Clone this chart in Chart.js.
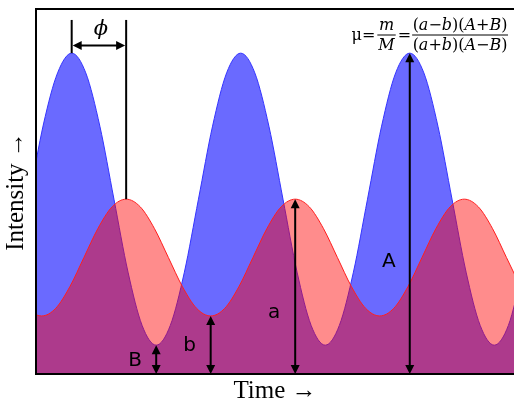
<!DOCTYPE html>
<html>
<head>
<meta charset="utf-8">
<script src="https://cdn.jsdelivr.net/npm/chart.js@4.4.1/dist/chart.umd.min.js"></script>
<style>
  html, body { margin: 0; padding: 0; background: #fff; overflow: hidden; }
  canvas { display: block; }
</style>
</head>
<body>
<canvas id="intensityChart" width="514" height="407"></canvas>
<script>
// ===============================
// DATA
// time is in degrees of the blue wave, its first peak at 0
// ===============================
const sampleTime = [-90, -60, -30, 0, 30, 60, 90, 120, 150, 180, 210, 240, 270, 300, 330,
    360, 390, 420, 450, 480, 510, 540, 570, 600, 630, 660, 690, 720, 750, 780, 810, 840,
    870, 900, 930, 960];
const sampleIntensity = [4.85, 6.85, 8.25, 8.79, 8.25, 6.79, 4.79, 2.79, 1.33, 0.79, 1.33,
    2.79, 4.79, 6.79, 8.25, 8.79, 8.25, 6.79, 4.79, 2.79, 1.33, 0.79, 1.33, 2.79, 4.79,
    6.79, 8.25, 8.79, 8.25, 6.79, 4.79, 2.79, 1.33, 0.79, 1.33, 2.79];

const referenceTime = [-124, -94, -64, -34, -4, 26, 56, 86, 116, 146, 176, 206, 236, 266,
    296, 326, 356, 386, 416, 446, 476, 506, 536, 566, 596, 626, 656, 686, 716, 746, 776,
    806, 836, 866, 896, 926, 956];
const referenceIntensity = [2.39, 1.80, 1.59, 1.80, 2.39, 3.19, 3.99, 4.58, 4.79, 4.58,
    3.99, 3.19, 2.39, 1.80, 1.59, 1.80, 2.39, 3.19, 3.99, 4.58, 4.79, 4.58, 3.99, 3.19,
    2.39, 1.80, 1.59, 1.80, 2.39, 3.19, 3.99, 4.58, 4.79, 4.58, 3.99, 3.19, 2.39];

const timeRange = [-76, 942];
const intensityRange = [0, 10];

// where the arrows sit (time of the peak / trough they measure)
const phaseShift = 116;
const levelNames = ['A', 'a', 'b', 'B'];
const levelTimes = [720, 476, 296, 180];

// ===============================
// HELPERS
// ===============================
function toPoints(xs, ys) {
    return xs.map((t, i) => ({ x: t, y: ys[i] }));
}

function arrowHead(ctx, x, y, dir) {
    const len = 9, half = 4.5;
    ctx.beginPath();
    if (dir === 'up') { ctx.moveTo(x, y); ctx.lineTo(x - half, y + len); ctx.lineTo(x + half, y + len); }
    if (dir === 'down') { ctx.moveTo(x, y); ctx.lineTo(x - half, y - len); ctx.lineTo(x + half, y - len); }
    if (dir === 'left') { ctx.moveTo(x, y); ctx.lineTo(x + len, y - half); ctx.lineTo(x + len, y + half); }
    if (dir === 'right') { ctx.moveTo(x, y); ctx.lineTo(x - len, y - half); ctx.lineTo(x - len, y + half); }
    ctx.closePath();
    ctx.fill();
}

function line(ctx, x1, y1, x2, y2) {
    ctx.beginPath();
    ctx.moveTo(x1, y1);
    ctx.lineTo(x2, y2);
    ctx.stroke();
}

function mathFont(italic, size) {
    return (italic ? 'italic ' : '') + size + 'px "DejaVu Serif"';
}

function runWidth(ctx, tokens, size) {
    let w = 0;
    tokens.forEach(([text, italic]) => {
        ctx.font = mathFont(italic, size);
        w += ctx.measureText(text).width;
    });
    return w;
}

function drawRun(ctx, tokens, x, y, size) {
    let cx = x;
    tokens.forEach(([text, italic]) => {
        ctx.font = mathFont(italic, size);
        ctx.fillText(text, cx, y);
        cx += ctx.measureText(text).width;
    });
}

// ===============================
// ANNOTATION PLUGIN (arrows, labels, formula)
// ===============================
const annotationPlugin = {
    id: 'annotations',
    afterDatasetsDraw(chart) {
        const { ctx, chartArea, scales: { x, y } } = chart;
        const A = Math.max(...sampleIntensity);
        const B = Math.min(...sampleIntensity);
        const a = Math.max(...referenceIntensity);
        const b = Math.min(...referenceIntensity);
        const levels = [A, a, b, B];

        ctx.save();
        ctx.strokeStyle = '#000';
        ctx.fillStyle = '#000';
        ctx.lineWidth = 2;

        // phase difference
        const px0 = x.getPixelForValue(0);
        const px1 = x.getPixelForValue(phaseShift);
        line(ctx, px0, y.getPixelForValue(9.7), px0, y.getPixelForValue(A));
        line(ctx, px1, y.getPixelForValue(9.7), px1, y.getPixelForValue(a));
        const arrowY = y.getPixelForValue(9.0);
        line(ctx, px0 + 4, arrowY, px1 - 4, arrowY);
        arrowHead(ctx, px0 + 1, arrowY, 'left');
        arrowHead(ctx, px1 - 1, arrowY, 'right');
        ctx.font = 'italic 21px "DejaVu Serif"';
        ctx.textAlign = 'center';
        ctx.textBaseline = 'middle';
        ctx.fillText('\u03D5', (px0 + px1) / 2 + 2, y.getPixelForValue(9.45));

        // level arrows
        const base = y.getPixelForValue(0);
        ctx.font = '20px "DejaVu Sans"';
        levelNames.forEach((name, i) => {
            const ax = x.getPixelForValue(levelTimes[i]);
            const top = y.getPixelForValue(levels[i]);
            line(ctx, ax, top + 4, ax, base - 4);
            arrowHead(ctx, ax, top, 'up');
            arrowHead(ctx, ax, base, 'down');
            const labelY = i < 2 ? top + (base - top) * 0.65 : (top + base) / 2 + 1;
            ctx.fillText(name, ax - 21, labelY);
        });

        // modulation formula, top right
        const size = 16;
        const right = chartArea.right - 6;
        const barY = chartArea.top + 26;
        const num = [['(', 0], ['a', 1], ['\u2212', 0], ['b', 1], [')', 0], ['(', 0], ['A', 1], ['+', 0], ['B', 1], [')', 0]];
        const den = [['(', 0], ['a', 1], ['+', 0], ['b', 1], [')', 0], ['(', 0], ['A', 1], ['\u2212', 0], ['B', 1], [')', 0]];
        ctx.textAlign = 'left';
        ctx.textBaseline = 'alphabetic';
        ctx.lineWidth = 1;

        const bigW = Math.max(runWidth(ctx, num, size), runWidth(ctx, den, size)) + 1;
        const bigL = right - bigW;
        line(ctx, bigL, barY, right, barY);
        drawRun(ctx, num, bigL + (bigW - runWidth(ctx, num, size)) / 2, barY - 5, size);
        drawRun(ctx, den, bigL + (bigW - runWidth(ctx, den, size)) / 2, barY + 15, size);

        ctx.font = mathFont(false, size);
        const eqW = ctx.measureText('=').width;
        let cx = bigL - 1 - eqW;
        ctx.fillText('=', cx, barY + 5);

        const smallW = Math.max(runWidth(ctx, [['m', 1]], size), runWidth(ctx, [['M', 1]], size)) + 2;
        const smallL = cx - 2 - smallW;
        line(ctx, smallL, barY, smallL + smallW, barY);
        drawRun(ctx, [['m', 1]], smallL + (smallW - runWidth(ctx, [['m', 1]], size)) / 2, barY - 5, size);
        drawRun(ctx, [['M', 1]], smallL + (smallW - runWidth(ctx, [['M', 1]], size)) / 2, barY + 15, size);

        ctx.font = mathFont(false, size);
        cx = smallL - 2 - eqW;
        ctx.fillText('=', cx, barY + 5);
        const muW = ctx.measureText('\u03BC').width;
        ctx.fillText('\u03BC', cx - muW, barY + 5);

        ctx.restore();
    }
};

// ===============================
// CHART
// ===============================
const hiddenAxis = {
    grid: { display: false, drawTicks: false },
    ticks: { display: false },
    border: { display: true, color: '#000', width: 2, z: 1 }
};

const ctx = document.getElementById('intensityChart').getContext('2d');

new Chart(ctx, {
    type: 'line',
    data: {
        datasets: [{
            label: 'Reference',
            data: toPoints(referenceTime, referenceIntensity),
            order: 0,
            fill: 'origin',
            backgroundColor: 'rgba(255, 0, 0, 0.45)',
            borderColor: 'rgb(255, 30, 30)',
            borderWidth: 1,
            pointRadius: 0,
            cubicInterpolationMode: 'monotone'
        }, {
            label: 'Sample',
            data: toPoints(sampleTime, sampleIntensity),
            order: 1,
            fill: 'origin',
            backgroundColor: 'rgba(0, 0, 255, 0.585)',
            borderColor: 'rgb(50, 50, 255)',
            borderWidth: 1,
            pointRadius: 0,
            cubicInterpolationMode: 'monotone'
        }]
    },
    options: {
        responsive: false,
        animation: false,
        layout: { padding: { top: 9, left: 0, right: 0, bottom: 0 } },
        plugins: {
            legend: { display: false },
            tooltip: { enabled: false }
        },
        scales: {
            x: {
                ...hiddenAxis,
                type: 'linear',
                position: 'bottom',
                min: timeRange[0],
                max: timeRange[1],
                title: {
                    display: true,
                    text: 'Time \u2192',
                    color: '#000',
                    font: { family: '"Liberation Serif"', size: 25 },
                    padding: { top: 2, bottom: 1 }
                }
            },
            xTop: {
                ...hiddenAxis,
                type: 'linear',
                position: 'top',
                min: timeRange[0],
                max: timeRange[1]
            },
            y: {
                ...hiddenAxis,
                min: intensityRange[0],
                max: intensityRange[1],
                title: {
                    display: true,
                    text: 'Intensity \u2192',
                    color: '#000',
                    font: { family: '"Liberation Serif"', size: 25 },
                    padding: { top: 1, bottom: 5 }
                }
            }
        }
    },
    plugins: [annotationPlugin]
});
</script>
</body>
</html>
